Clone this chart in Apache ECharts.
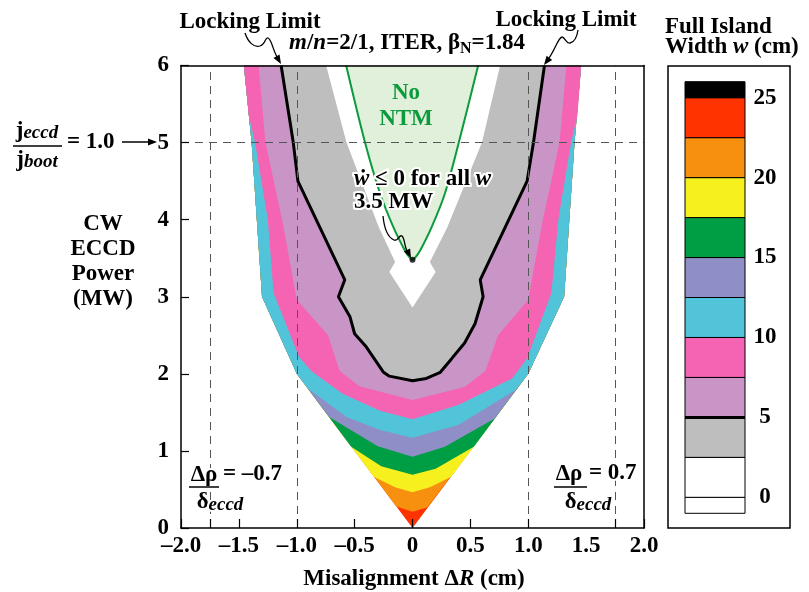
<!DOCTYPE html>
<html><head><meta charset="utf-8">
<script src="https://cdn.jsdelivr.net/npm/echarts@6/dist/echarts.min.js"></script>
<style>html,body{margin:0;padding:0;background:#fff}#c{width:809px;height:592px}</style>
</head><body><div id="c"></div>
<script>
// ---------- axis data ----------
const xTicks = [-2, -1.75, -1.5, -1, -0.5, 0, 0.5, 1, 1.75, 2];
const xLabels = [-2, -1.5, -1, -0.5, 0, 0.5, 1, 1.5, 2];
const yLabels = [0, 1, 2, 3, 4, 5, 6];
const dashedX = [-1.75, -1, 1, 1.75];
const dashedY = [5];

// ---------- contour data (Misalignment cm, Power MW) ----------
const envL = [[0,0],[-1.0,2.0],[-1.30,3.0],[-1.39,5.0],[-1.457,6]];
const envR = [[0,0],[1.0,2.0],[1.31,3.0],[1.40,5.0],[1.457,6]];
const c225 = [[-0.14,0.28],[0,0.21],[0.13,0.27]];
const c20  = [[-0.335,0.665],[-0.15,0.53],[0,0.465],[0.15,0.53],[0.335,0.665]];
const c175 = [[-0.53,1.055],[-0.27,0.80],[0,0.69],[0.2,0.77],[0.53,1.055]];
const c15  = [[-0.72,1.44],[-0.3,1.06],[0,0.925],[0.28,1.055],[0.71,1.42]];
const c125 = [[-0.905,1.81],[-0.57,1.44],[-0.28,1.27],[0,1.17],[0.40,1.34],[0.89,1.79]];
const c10  = [[-1.415,5.35],[-1.36,5.0],[-1.25,4.0],[-1.2,3.05],[-0.98,2.22],[-0.87,2.03],[-0.6,1.74],[-0.28,1.52],[0,1.41],[0.40,1.6],[0.86,1.94],[0.99,2.2],[1.2,3.05],[1.26,4.0],[1.37,5.0],[1.425,5.35]];
const c75  = [[-1.33,6],[-1.27,5.0],[-1.12,3.95],[-1.0,2.96],[-0.73,2.5],[-0.63,2.04],[-0.46,1.84],[0,1.66],[0.45,1.83],[0.63,2.04],[0.74,2.5],[1.0,2.96],[1.12,3.95],[1.27,5.0],[1.33,6]];
const c5   = [[-1.135,6],[-1.03,5.0],[-0.99,4.5],[-0.585,3.22],[-0.64,3.0],[-0.54,2.74],[-0.50,2.52],[-0.40,2.35],[-0.25,2.02],[-0.2,1.97],[0,1.91],[0.12,1.94],[0.24,2.02],[0.34,2.2],[0.45,2.4],[0.54,2.65],[0.61,3.0],[0.585,3.22],[0.99,4.5],[1.045,5.0],[1.14,6]];
const c25  = [[-0.746,6],[-0.57,5.0],[-0.29,3.9],[-0.15,3.45],[-0.2,3.32],[0,2.86],[0.2,3.32],[0.15,3.45],[0.3,3.9],[0.6,5.0],[0.757,6]];
const ntm  = [[-0.573,6],[-0.41,5.0],[-0.28,4.34],[-0.167,3.91],[-0.066,3.6],[-0.025,3.51],[0,3.48],[0.025,3.51],[0.066,3.6],[0.167,3.91],[0.28,4.34],[0.40,5.0],[0.567,6]];
const ntmPoint = [[0, 3.48]];

// ---------- colours ----------
const bandColors = ['#ff3300','#f8900f','#f5f01e','#009e44','#8f8ec6','#52c4d9','#f564b3','#c994c6','#bebebe','#ffffff','#e1f0da'];

// ---------- legend data ----------
const legendEdges = [-1,0,2.5,5,7.5,10,12.5,15,17.5,20,22.5,25,26];
const legendColors = ['#ffffff','#ffffff','#bebebe','#c994c6','#f564b3','#52c4d9','#8f8ec6','#009e44','#f5f01e','#f8900f','#ff3300','#000000'];
const legendLabels = [0,5,10,15,20,25];
const legendLock = 5;

function closeRegion(contour){
  const first = contour[0], last = contour[contour.length-1];
  const right = envR.filter(p => p[1] > last[1] + 1e-9);
  const left = envL.filter(p => p[1] > first[1] + 1e-9).reverse();
  return contour.concat(right, left);
}
const envelope = envL.slice().reverse().concat(envR.slice(1));
const bandPolys = [envelope, closeRegion(c225), closeRegion(c20), closeRegion(c175), closeRegion(c15), closeRegion(c125), closeRegion(c10), c75, c5, c25, ntm];

const FONT = '"Liberation Serif","DejaVu Serif",serif';
const FS = 23;
const chart = echarts.init(document.getElementById('c'));

const bandSeries = bandPolys.map((poly, i) => ({
  type: 'custom', xAxisIndex: 0, yAxisIndex: 0, z: 2, clip: true, silent: true,
  data: [[0, 0]],
  renderItem: (params, api) => ({
    type: 'polygon',
    shape: { points: poly.map(p => api.coord(p)) },
    style: { fill: bandColors[i], stroke: null }
  })
}));

function txt(x, y, text, extra){
  return { type: 'text', x: x, y: y, z: 100,
    style: Object.assign({ text: text, fontFamily: FONT, fontWeight: 'bold', fontSize: FS, fill: '#000', align: 'center', verticalAlign: 'middle' }, (extra && extra.style) || {})
  };
}
function arrowHead(tip, dir, len, half){
  len = len || 9; half = half || 3.5;
  const n = Math.hypot(dir[0], dir[1]); const ux = dir[0]/n, uy = dir[1]/n;
  const bx = tip[0]-ux*len, by = tip[1]-uy*len;
  return { type: 'polygon', z: 100, shape: { points: [tip, [bx-uy*half, by+ux*half], [bx+uy*half, by-ux*half]] }, style: { fill: '#000' } };
}
function squiggle(start, segs){
  const out = []; let cur = start;
  segs.forEach(s => {
    out.push({ type: 'bezierCurve', z: 100,
      shape: { x1: cur[0], y1: cur[1], cpx1: s[0], cpy1: s[1], cpx2: s[2], cpy2: s[3], x2: s[4], y2: s[5] },
      style: { stroke: '#000', lineWidth: 1.3, fill: null } });
    cur = [s[4], s[5]];
  });
  return out;
}
function lineEl(x1,y1,x2,y2,w){ return { type: 'line', z: 100, shape: { x1:x1, y1:y1, x2:x2, y2:y2 }, style: { stroke: '#000', lineWidth: w || 1.5 } }; }

const sub = (size, pad) => ({ fontSize: size, fontFamily: FONT, fontWeight: 'bold', fontStyle: 'italic', fill: '#000', padding: [pad, 0, 0, 0] });
const ital = { fontSize: FS, fontFamily: FONT, fontWeight: 'bold', fontStyle: 'italic', fill: '#000' };
const halo = { stroke: '#fff', lineWidth: 4 };

const graphics = [
  txt(250, 22, 'Locking Limit'),
  txt(566, 20, 'Locking Limit'),
  txt(407, 43, '{i|m}/{i|n}=2/1, ITER, β{s|N}=1.84', { style: { rich: {
    i: ital, s: { fontSize: 16, fontFamily: FONT, fontWeight: 'bold', fill: '#000', padding: [11, 0, 0, 0] } } } }),
  txt(665, 27, 'Full Island', { style: { align: 'left' } }),
  txt(665, 47, 'Width {i|w} (cm)', { style: { align: 'left', rich: { i: ital } } }),
  txt(406, 93, 'No', { style: { fill: '#0b9a3c' } }),
  txt(406, 119, 'NTM', { style: { fill: '#0b9a3c' } }),
  txt(354, 179, '{i|ẇ} ≤ 0 for all {i|w}', { style: Object.assign({ align: 'left', rich: { i: Object.assign({}, ital, halo) } }, halo) }),
  txt(354, 202, '3.5 MW', { style: Object.assign({ align: 'left' }, halo) }),
  txt(103, 262, 'CW\nECCD\nPower\n(MW)', { style: { lineHeight: 25 } }),
  txt(414, 579, 'Misalignment Δ{i|R} (cm)', { style: { rich: { i: ital } } }),
  // j_eccd / j_boot = 1.0 ->
  txt(37, 131, 'j{s|eccd}', { style: { rich: { s: sub(19, 5) } } }),
  lineEl(13, 146, 62, 146, 1.5),
  txt(37, 160, 'j{s|boot}', { style: { rich: { s: sub(19, 5) } } }),
  txt(67, 142, '= 1.0', { style: { align: 'left' } }),
  lineEl(122, 142, 150, 142, 1.5),
  arrowHead([157, 142], [1, 0], 9, 3.5),
  // left delta rho
  txt(204, 475, 'Δρ', { style: Object.assign({}, halo) }),
  lineEl(189, 487, 219, 487, 1.5),
  txt(220, 502, 'δ{s|eccd}', { style: Object.assign({ rich: { s: Object.assign(sub(19, 6), halo) } }, halo) }),
  txt(223, 474, '= –0.7', { style: Object.assign({ align: 'left' }, halo) }),
  // right delta rho
  txt(569, 474, 'Δρ', { style: Object.assign({}, halo) }),
  lineEl(554, 487, 587, 487, 1.5),
  txt(588, 502, 'δ{s|eccd}', { style: Object.assign({ rich: { s: Object.assign(sub(19, 6), halo) } }, halo) }),
  txt(589, 473, '= 0.7', { style: Object.assign({ align: 'left' }, halo) }),
  arrowHead([281, 64], [0.5, 0.87], 9, 3.5),
  arrowHead([544, 65], [-0.6, 0.8], 9, 3.5),
  arrowHead([411, 258], [0.45, 0.9], 9, 3.5),
  // legend frame
  { type: 'rect', z: 100, shape: { x: 668, y: 66, width: 122, height: 462 }, style: { fill: null, stroke: '#000', lineWidth: 1.5 } }
].concat(
  squiggle([245,33], [[248,42,254,48,260,46],[266,44,265,37,268,38],[272,40,272,48,277,57]]),
  squiggle([578,30], [[577,37,575,42,570,43],[566,44,565,37,562,37],[558,38,556,48,549,58]]),
  squiggle([383,216], [[384,226,387,237,394,240],[398,242,399,234,402,236],[405,239,404,245,407,251]])
);

const labelFont = { color: '#000', fontFamily: FONT, fontWeight: 'bold', fontSize: FS };
const option = {
  backgroundColor: '#fff',
  animation: false,
  grid: [
    { left: 181, top: 65.5, width: 463, height: 462.5 },
    { left: 685, top: 81.7, width: 60, height: 431.6 }
  ],
  xAxis: [
    { gridIndex: 0, type: 'value', min: -2, max: 2, position: 'bottom', z: 10,
      axisLine: { onZero: false, lineStyle: { color: '#000', width: 1.5 } },
      axisTick: { inside: true, length: 9, customValues: xTicks, lineStyle: { color: '#000', width: 1.2 } },
      axisLabel: Object.assign({ customValues: xLabels, margin: 7,
        formatter: v => v === 0 ? '0' : (v < 0 ? '–' : '') + Math.abs(v).toFixed(1) }, labelFont),
      splitLine: { show: false } },
    { gridIndex: 0, type: 'value', min: -2, max: 2, position: 'top', z: 10,
      axisLine: { onZero: false, lineStyle: { color: '#000', width: 1.5 } }, axisTick: { show: false }, axisLabel: { show: false }, splitLine: { show: false } },
    { gridIndex: 1, type: 'value', min: 0, max: 1, show: false }
  ],
  yAxis: [
    { gridIndex: 0, type: 'value', min: 0, max: 6, interval: 1, position: 'left', z: 10,
      axisLine: { onZero: false, lineStyle: { color: '#000', width: 1.5 } },
      axisTick: { inside: true, length: 8, lineStyle: { color: '#000', width: 1.2 } },
      axisLabel: Object.assign({ customValues: yLabels, margin: 12 }, labelFont),
      splitLine: { show: false } },
    { gridIndex: 0, type: 'value', min: 0, max: 6, position: 'right', z: 10,
      axisLine: { show: true, onZero: false, lineStyle: { color: '#000', width: 1.5 } }, axisTick: { show: false }, axisLabel: { show: false }, splitLine: { show: false } },
    { gridIndex: 1, type: 'value', min: -1, max: 26, position: 'right',
      axisLine: { show: false }, axisTick: { show: false }, splitLine: { show: false },
      axisLabel: Object.assign({ customValues: legendLabels, margin: 20, align: 'center' }, labelFont) }
  ],
  series: bandSeries.concat([
    { type: 'line', xAxisIndex: 0, yAxisIndex: 0, data: c5, symbol: 'none', z: 3, silent: true, clip: true,
      lineStyle: { color: '#000', width: 3 } },
    { type: 'line', xAxisIndex: 0, yAxisIndex: 0, data: ntm, symbol: 'none', z: 3, silent: true, clip: true, smooth: 0.3,
      lineStyle: { color: '#0b9a3c', width: 2 } },
    { type: 'scatter', xAxisIndex: 0, yAxisIndex: 0, data: ntmPoint, symbolSize: 6, z: 6, silent: true,
      itemStyle: { color: '#000' } },
    { type: 'line', xAxisIndex: 0, yAxisIndex: 0, data: [], z: 5, silent: true,
      markLine: { silent: true, symbol: 'none', label: { show: false }, animation: false,
        lineStyle: { color: '#555', width: 1, type: [8, 6] },
        data: dashedX.map(v => ({ xAxis: v })).concat(dashedY.map(v => ({ yAxis: v }))) } },
    { type: 'custom', xAxisIndex: 2, yAxisIndex: 2, silent: true, z: 2,
      data: legendColors.map((c, i) => [legendEdges[i], legendEdges[i + 1], i]),
      renderItem: (params, api) => {
        const lo = api.value(0), hi = api.value(1), i = api.value(2);
        const p1 = api.coord([0, hi]), p2 = api.coord([1, lo]);
        return { type: 'rect', shape: { x: p1[0], y: p1[1], width: p2[0] - p1[0], height: p2[1] - p1[1] },
          style: { fill: legendColors[i], stroke: '#000', lineWidth: 1 } };
      } },
    { type: 'custom', xAxisIndex: 2, yAxisIndex: 2, silent: true, z: 3,
      data: [[legendLock]],
      renderItem: (params, api) => {
        const a = api.coord([0, api.value(0)]), b = api.coord([1, api.value(0)]);
        return { type: 'line', shape: { x1: a[0], y1: a[1], x2: b[0], y2: b[1] }, style: { stroke: '#000', lineWidth: 3 } };
      } }
  ]),
  graphic: graphics
};
chart.setOption(option);
</script></body></html>
